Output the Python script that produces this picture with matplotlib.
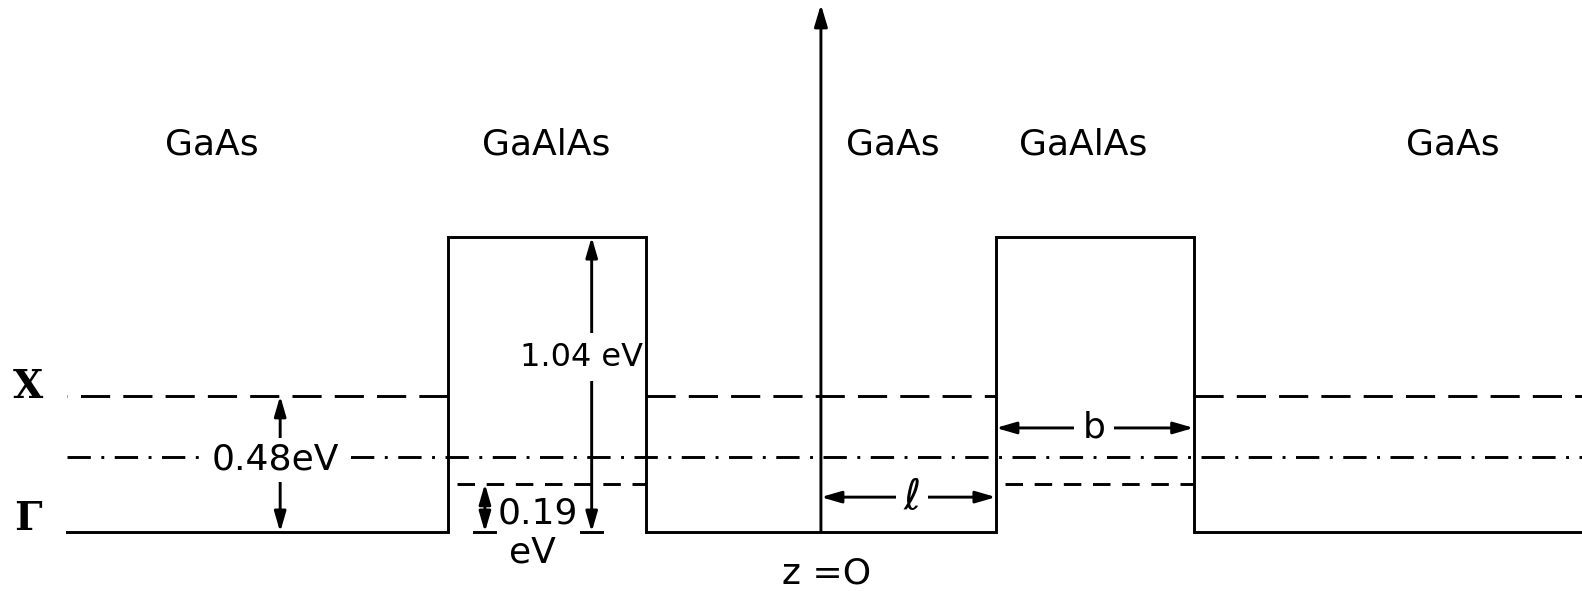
import matplotlib.pyplot as plt

# layer edges along z (unit = l, z = 0 at the centre of the GaAs well)
edges = [-4.31, -2.13, -1.0, 1.0, 2.13, 4.40]
layers = ['GaAs', 'GaAlAs', 'GaAs', 'GaAlAs', 'GaAs']
layer_x = [-3.48, -1.57, 0.41, 1.50, 3.61]

# band levels in eV
gamma_lvl = [0.0, 1.04, 0.0, 1.04, 0.0]
x_lvl = [0.48, 0.17, 0.48, 0.17, 0.48]
dot_lvl = 0.265

fig = plt.figure(figsize=(15.82, 5.91), dpi=100)
ax = fig.add_axes([0, 0, 1, 1])
ax.set_xlim(-4.691, 4.349)
ax.set_ylim(-0.208, 1.876)
ax.axis('off')

lw = 2.1
sans = 'DejaVu Sans'

# Gamma conduction band edge (solid step profile), drawn on top of labels
xs, ys = [], []
for i in range(len(layers)):
    xs += [edges[i], edges[i + 1]]
    ys += [gamma_lvl[i], gamma_lvl[i]]
ax.plot(xs, ys, color='black', lw=lw, solid_joinstyle='miter', zorder=6)

# X band edge (dashed); left layer drawn from the barrier outwards
for i in range(len(layers)):
    if layers[i] == 'GaAs':
        seg = [edges[i + 1], edges[i]] if i == 0 else [edges[i], edges[i + 1]]
        ax.plot(seg, [x_lvl[i]] * 2, color='black', lw=lw, dashes=(10, 4.5))
    else:
        ax.plot([edges[i] + 0.05, edges[i + 1]], [x_lvl[i]] * 2, color='black',
                lw=lw, dashes=(6, 4))

# dash-dot line across the structure
ax.plot([edges[0], edges[-1]], [dot_lvl] * 2, color='black', lw=lw,
        dashes=(8, 3.6, 1, 3.6))

# z axis
ax.annotate('', xy=(0, 1.86), xytext=(0, gamma_lvl[2]),
            arrowprops=dict(arrowstyle='-|>,head_length=0.6,head_width=0.18',
                            mutation_scale=22, lw=lw, color='black',
                            shrinkA=0, shrinkB=0))


def dbl_arrow(x0, y0, x1, y1):
    ax.annotate('', xy=(x1, y1), xytext=(x0, y0), zorder=2,
                arrowprops=dict(arrowstyle='<|-|>,head_length=0.55,head_width=0.16',
                                mutation_scale=22, lw=lw, color='black',
                                shrinkA=0, shrinkB=0))


def label(x, y, s, size=26, pad=1.5, **kw):
    ax.text(x, y, s, ha='center', va='center', fontsize=size, family=sans,
            zorder=5, bbox=dict(facecolor='white', edgecolor='none', pad=pad),
            **kw)


# energy arrows
dbl_arrow(-3.09, 0.0, -3.09, 0.48)
label(-3.12, 0.254, '0.48eV', pad=4)
dbl_arrow(-1.31, 0.0, -1.31, 1.04)
label(-1.37, 0.617, '1.04 eV', size=23, pad=6)
dbl_arrow(-1.92, 0.0, -1.92, 0.17)
ax.plot([-1.98, -1.86], [0, 0], color='black', lw=lw)
ax.plot([-1.37, -1.25], [0, 0], color='black', lw=lw)
ax.text(-1.62, 0.067, '0.19', ha='center', va='center', fontsize=26, family=sans)
ax.text(-1.65, -0.074, 'eV', ha='center', va='center', fontsize=26, family=sans)

# widths
dbl_arrow(0.0, 0.123, 1.0, 0.123)
label(0.52, 0.123, r'$\ell$', size=30, pad=5)
dbl_arrow(1.0, 0.367, 2.13, 0.367)
label(1.56, 0.367, 'b', pad=6)

ax.text(0.03, -0.145, 'z =O', ha='center', va='center', fontsize=26, family=sans)

# layer names
for name, x in zip(layers, layer_x):
    ax.text(x, 1.365, name, ha='center', va='center', fontsize=26, family=sans)

# band labels
ax.text(-4.53, 0.51, 'X', ha='center', va='center', fontsize=28,
        family='DejaVu Serif', fontweight='bold')
ax.text(-4.53, 0.045, 'Γ', ha='center', va='center', fontsize=28,
        family='DejaVu Serif', fontweight='bold')

fig.savefig('out.png', dpi=100)
